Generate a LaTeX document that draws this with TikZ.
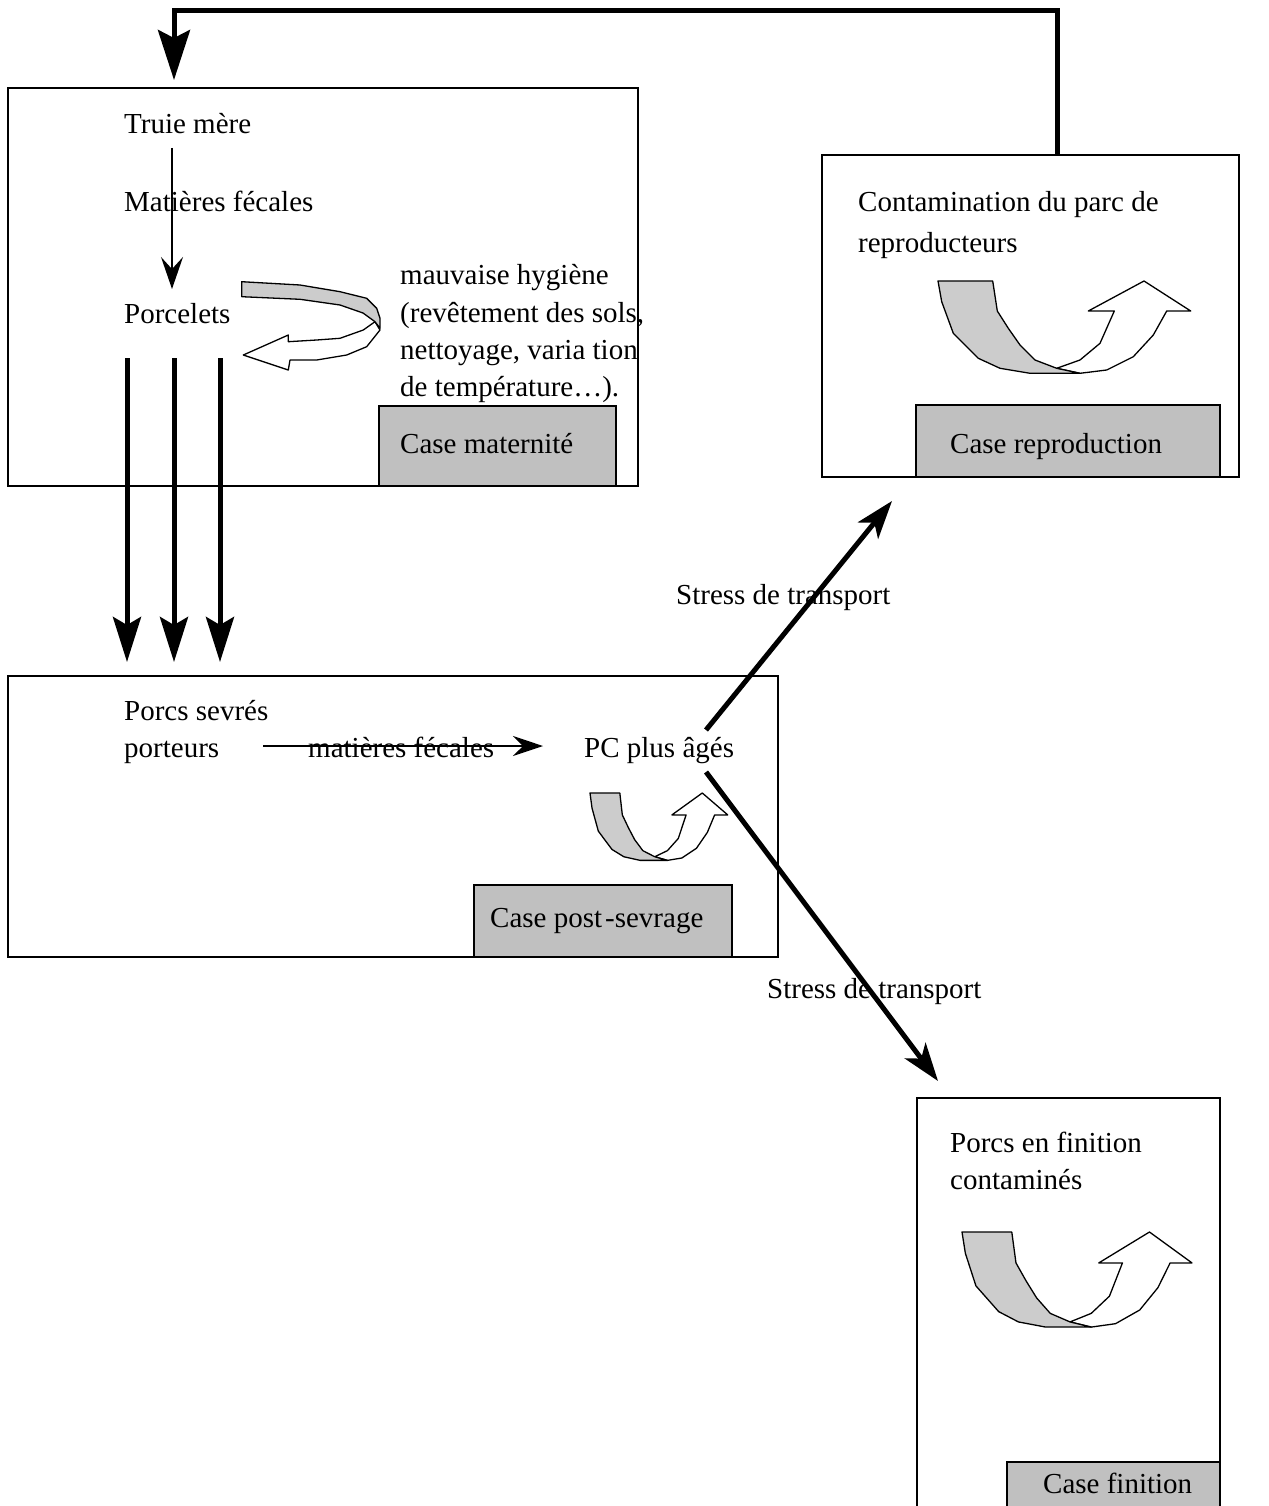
\documentclass[tikz,border=0pt]{standalone}
\usepackage{fontspec}
\setmainfont{Liberation Serif}
\usetikzlibrary{arrows.meta}
\definecolor{boxgray}{HTML}{C0C0C0}
\definecolor{arrowgray}{HTML}{CCCCCC}
\tikzset{
  uturn/.pic={
    \draw[line width=1.3pt, fill=white, line join=round]
      (118.7,87.3) -- (142,79) -- (162,62.3) -- (176.3,30) -- (150.3,30) -- (206,0)
      -- (252.7,30) -- (228.7,30) -- (215.3,54) -- (195.3,75.7) -- (168.7,89) -- (142,92.3) -- cycle;
    \draw[line width=1.3pt, fill=arrowgray, line join=round]
      (0,0) -- (54.7,0) -- (59.3,30) -- (70.3,47.3) -- (82,64) -- (97,79) -- (118.7,87.3)
      -- (142,92.3) -- (92,92.3) -- (62,87.3) -- (40.3,77.3) -- (15.3,52.3) -- (3.7,20.7) -- cycle;
  }
}
\begin{document}
\begin{tikzpicture}[x=1pt,y=-1pt,
  frame/.style={draw, line width=1.3pt, inner sep=0pt, outer sep=0pt},
  graybox/.style={frame, fill=boxgray},
  txt/.style={inner sep=0pt, anchor=base west, font=\fontsize{29}{37}\selectfont},
  heavy/.style={line width=5pt, -{Stealth[length=45pt,width=28pt,inset=8pt]}},
  toparrow/.style={line width=5pt, -{Stealth[length=50pt,width=32pt,inset=8pt]}},
  diag/.style={line width=5pt, -{Stealth[length=38pt,width=26pt,inset=10pt]}},
  thin/.style={line width=1.5pt, -{Stealth[length=32pt,width=22pt,inset=12pt]}},
  thinh/.style={line width=1.5pt, -{Stealth[length=30pt,width=20pt,inset=10pt]}}
]
\useasboundingbox (0,0) rectangle (1268,1506);

% boxes
\node[frame, minimum width=630pt, minimum height=398pt] (mat) at (323,287) {};
\node[graybox, minimum width=237pt, minimum height=80pt] (matg) at (497.5,446) {};
\node[frame, minimum width=417pt, minimum height=322pt] (rep) at (1030.5,316) {};
\node[graybox, minimum width=304pt, minimum height=72pt] (repg) at (1068,441) {};
\node[frame, minimum width=770pt, minimum height=281pt] (ps) at (393,816.5) {};
\node[graybox, minimum width=258pt, minimum height=72pt] (psg) at (603,921) {};
\node[frame, minimum width=303pt, minimum height=417pt] (fin) at (1068.5,1306.5) {};
\node[graybox, minimum width=213pt, minimum height=53pt] (fing) at (1113.5,1488.5) {};

% texts
\node[txt] (truie) at (124,134) {Truie mère};
\node[txt] (mf1) at (124,212) {Matières fécales};
\node[txt] (porcelets) at (124,323) {Porcelets};
\node[txt] (hyg1) at (400,284) {mauvaise hygiène};
\node[txt] (hyg2) at (400,322) {(revêtement des sols,};
\node[txt] (hyg3) at (400,359) {nettoyage, varia tion};
\node[txt] (hyg4) at (400,396) {de température…).};
\node[txt] (casemat) at (400,453) {Case maternité};
\node[txt] (cont1) at (858,212) {Contamination du parc de};
\node[txt] (cont2) at (858,253) {reproducteurs};
\node[txt] (caserep) at (950,453) {Case reproduction};
\node[txt] (st1) at (676,604) {Stress de transport};
\node[txt] (sevr1) at (124,720) {Porcs sevrés};
\node[txt] (sevr2) at (124,757) {porteurs};
\node[txt] (mf2) at (308,757) {matières fécales};
\node[txt] (pc) at (584,757) {PC plus âgés};
\node[txt] (caseps) at (490,927) {Case post\kern3pt-sevrage};
\node[txt] (st2) at (767,998) {Stress de transport};
\node[txt] (fin1) at (950,1152) {Porcs en finition};
\node[txt] (fin2) at (950,1189) {contaminés};
\node[txt] (casefin) at (1043,1493) {Case finition};

% maternite curl
\draw[line width=1.3pt, fill=white, line join=round]
  (375,321.7) -- (363.3,330) -- (340,338.3) -- (316.7,340) -- (288.3,341.7) -- (288.3,335)
  -- (243.3,355) -- (288.3,370) -- (290,360) -- (316.7,360) -- (346.7,355) -- (366.7,346.7)
  -- (380,330) -- cycle;
\draw[line width=1.3pt, fill=arrowgray, line join=round]
  (241.7,281.7) -- (300,285) -- (340,291.7) -- (366.7,298.3) -- (376.7,308.3) -- (380,318.3)
  -- (380,328.3) -- (375,321.7) -- (363,313) -- (340,305) -- (300,299.3) -- (241.7,296.7) -- cycle;

% U-turn arrows
\pic (urep) at (938,281) {uturn};
\pic[xscale=0.545, yscale=0.73] (ups) at (590,793) {uturn};
\pic[xscale=0.91, yscale=1.03] (ufin) at (962,1232) {uturn};

% coordinates for connectors
\coordinate (loopS) at (1057,155);
\coordinate (loopA) at (1057,11);
\coordinate (loopB) at (174,11);
\coordinate (loopE) at (174,80);
\coordinate (tS) at (172,148);
\coordinate (tE) at (172,289);
\coordinate (v1s) at (127,358); \coordinate (v1e) at (127,662);
\coordinate (v2s) at (174,358); \coordinate (v2e) at (174,662);
\coordinate (v3s) at (220,358); \coordinate (v3e) at (220,662);
\coordinate (hS) at (263,746); \coordinate (hE) at (543,746);
\coordinate (d1s) at (706,730); \coordinate (d1e) at (892,501);
\coordinate (d2s) at (706,772); \coordinate (d2e) at (938,1081);

% connectors
\draw[toparrow] (loopS) -- (loopA) -- (loopB) -- (loopE);
\draw[thin] (tS) -- (tE);
\draw[heavy] (v1s) -- (v1e);
\draw[heavy] (v2s) -- (v2e);
\draw[heavy] (v3s) -- (v3e);
\draw[thinh] (hS) -- (hE);
\draw[diag] (d1s) -- (d1e);
\draw[diag] (d2s) -- (d2e);
\end{tikzpicture}
\end{document}
